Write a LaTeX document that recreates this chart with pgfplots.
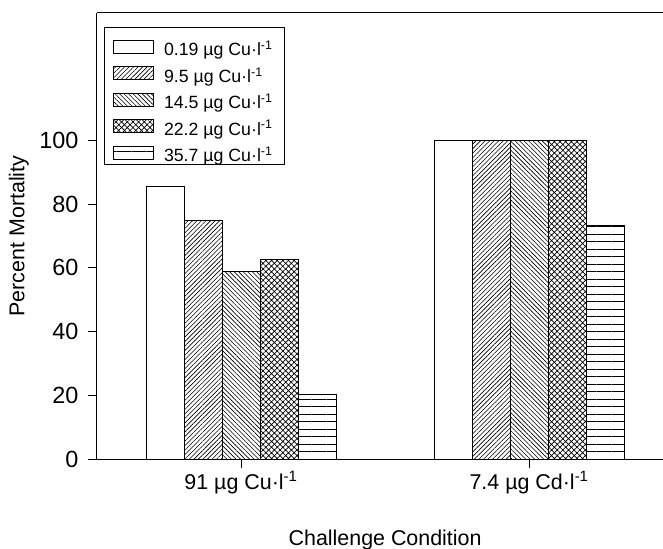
\documentclass[border=0pt]{standalone}
\usepackage{fontspec}
\setmainfont{Liberation Sans}
\usepackage{pgfplots}
\pgfplotsset{compat=1.18}
\usetikzlibrary{patterns.meta}

\begin{document}
\begin{tikzpicture}
\begin{axis}[
  name=ax,
  scale only axis, width=566bp, height=446bp,
  ybar=0pt, bar width=38bp,
  xmin=-0.5, xmax=1.465, ymin=0, ymax=140,
  axis x line*=bottom, axis y line*=left,
  axis line style={-, line width=1bp},
  xtick={0,1},
  xticklabels={{91 µg Cu·l\textsuperscript{-1}},{7.4 µg Cd·l\textsuperscript{-1}}},
  ytick={0,20,...,100},
  tick align=outside, major tick length=9bp,
  tick style={line width=1bp, black},
  /pgf/number format/assume math mode=true,
  xticklabel style={font=\fontsize{21.5}{24}\selectfont},
  yticklabel style={font=\fontsize{23.5}{26}\selectfont, xshift=-6bp},
  label style={font=\fontsize{21.5}{24}\selectfont},
  xlabel={Challenge Condition},
  ylabel={Percent Mortality},
  xlabel style={at={(axis description cs:0.509,-0.195)}, anchor=base},
  ylabel style={at={(axis description cs:-0.138,0.5)}, anchor=center},
  legend cell align=left,
  legend style={at={(axis description cs:0.0124,0.969)}, anchor=north west,
    font=\fontsize{17.8}{20}\selectfont, draw=none, fill=none,
    nodes={inner sep=0pt, text height=13bp, text depth=4bp},
    row sep=6.5bp, column sep=10bp, inner xsep=9bp, inner ysep=13bp},
  legend image code/.code={\draw[#1, line width=0.8bp] (0bp,-2bp) rectangle (40bp,11bp);},
]
\addplot[draw=black, line width=0.8bp, fill=white] coordinates {(0,85.7) (1,100)};
\addplot[draw=black, line width=0.8bp, pattern={Lines[angle=45,distance=3.2bp,line width=0.6bp]}] coordinates {(0,75) (1,100)};
\addplot[draw=black, line width=0.8bp, pattern={Lines[angle=-45,distance=3.2bp,line width=0.6bp]}] coordinates {(0,58.8) (1,100)};
\addplot[draw=black, line width=0.8bp, pattern={Hatch[angle=45,distance=4bp,line width=0.7bp]}] coordinates {(0,62.5) (1,100)};
\addplot[draw=black, line width=0.8bp, pattern={Lines[angle=0,distance=7.5bp,line width=0.8bp]}] coordinates {(0,20.3) (1,73.4)};
\legend{{0.19 µg Cu·l\textsuperscript{-1}},{9.5 µg Cu·l\textsuperscript{-1}},{14.5 µg Cu·l\textsuperscript{-1}},{22.2 µg Cu·l\textsuperscript{-1}},{35.7 µg Cu·l\textsuperscript{-1}}}
\draw[line width=1bp] (rel axis cs:0,1) -- (rel axis cs:1,1);
\draw[line width=1bp] (rel axis cs:0.0124,0.9686) rectangle (rel axis cs:0.3304,0.6614);
\end{axis}
\pgfresetboundingbox
\path ([xshift=-97bp,yshift=-90bp]ax.south west) rectangle ([yshift=13bp]ax.north east);
\end{tikzpicture}
\end{document}
